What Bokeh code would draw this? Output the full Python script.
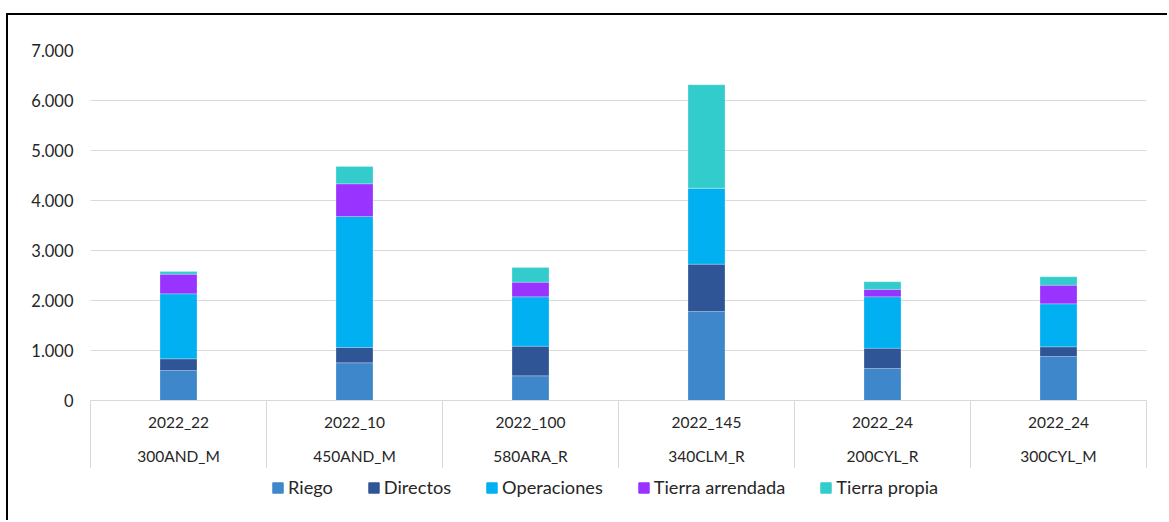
from bokeh.plotting import figure
from bokeh.models import (ColumnDataSource, Range1d, FixedTicker, LinearAxis,
                          Legend, LegendItem)
from bokeh.layouts import column
from bokeh.embed import file_html
from bokeh.resources import INLINE

# ---- data ----
years = ["2022_22", "2022_10", "2022_100", "2022_145", "2022_24", "2022_24"]
farms = ["300AND_M", "450AND_M", "580ARA_R", "340CLM_R", "200CYL_R", "300CYL_M"]
riego = [600, 753, 493, 1780, 640, 880]
directos = [233, 307, 593, 947, 407, 193]
operaciones = [1300, 2620, 987, 1520, 1027, 860]
tierra_arrendada = [393, 653, 293, 0, 147, 373]
tierra_propia = [53, 347, 293, 2067, 153, 167]
series = ["Riego", "Directos", "Operaciones", "Tierra arrendada", "Tierra propia"]
colors = ["#3E87CB", "#2F5597", "#00B0F0", "#9933FF", "#33CCCC"]
y_ticks = [0, 1000, 2000, 3000, 4000, 5000, 6000, 7000]

FONT = "Lato"
TXT = "#262626"

n = len(farms)
xpos = [i + 0.5 for i in range(n)]
src = ColumnDataSource(dict(
    x=xpos, Riego=riego, Directos=directos, Operaciones=operaciones,
    **{"Tierra arrendada": tierra_arrendada, "Tierra propia": tierra_propia}))

W = 1161
H1, H2 = 455, 52
p = figure(width=W, height=H1, output_backend="svg", toolbar_location=None,
           x_range=Range1d(0, n), y_range=Range1d(0, 7000),
           min_border_left=82, min_border_top=35, min_border_right=23,
           min_border_bottom=70, x_axis_location=None)
p.outline_line_color = None
p.background_fill_color = "white"
p.border_fill_color = "white"
p.styles = {"border-left": "2px solid black", "border-top": "2px solid black",
            "margin-left": "6px", "margin-top": "13px"}

renderers = p.vbar_stack(series, x="x", width=0.21, source=src, color=colors,
                         line_color="white", line_alpha=0.35, line_width=0.6)

# y axis
ya = p.yaxis[0]
ya.ticker = FixedTicker(ticks=y_ticks)
ya.major_label_overrides = {v: f"{v:,}".replace(",", ".") for v in y_ticks}
ya.axis_line_color = None
ya.major_tick_line_color = None
ya.major_tick_out = 0
ya.major_tick_in = 0
ya.minor_tick_line_color = None
ya.minor_tick_out = 0
ya.major_label_standoff = 17
ya.major_label_text_font = FONT
ya.major_label_text_font_size = "16.5px"
ya.major_label_text_color = TXT

p.xgrid.grid_line_color = None
p.ygrid.ticker = FixedTicker(ticks=y_ticks)
p.ygrid.grid_line_color = "#D9D9D9"
p.ygrid.grid_line_width = 1

# x axis - first level (years) with separators as minor ticks
ax1 = LinearAxis(ticker=FixedTicker(ticks=xpos, minor_ticks=list(range(n + 1))))
ax1.major_label_overrides = {x: y for x, y in zip(xpos, years)}
ax1.axis_line_color = "#D9D9D9"
ax1.major_tick_line_color = None
ax1.major_tick_out = 0
ax1.major_tick_in = 0
ax1.minor_tick_in = 0
ax1.minor_tick_out = 68
ax1.minor_tick_line_color = "#D9D9D9"
ax1.major_label_standoff = -56
ax1.major_label_text_font = FONT
ax1.major_label_text_font_size = "15.5px"
ax1.major_label_text_color = TXT
p.add_layout(ax1, "below")

# x axis - second level (farms)
ax2 = LinearAxis(ticker=FixedTicker(ticks=xpos, minor_ticks=[]))
ax2.major_label_overrides = {x: f for x, f in zip(xpos, farms)}
ax2.axis_line_color = None
ax2.major_tick_line_color = None
ax2.major_tick_out = 0
ax2.major_tick_in = 0
ax2.minor_tick_line_color = None
ax2.major_label_standoff = 13
ax2.major_label_text_font = FONT
ax2.major_label_text_font_size = "15.5px"
ax2.major_label_text_color = TXT
p.add_layout(ax2, "below")

# legend strip below the chart (hidden proxy renderers carry the legend glyphs)
p2 = figure(width=W, height=H2, output_backend="svg", toolbar_location=None,
            x_range=Range1d(100, 101), y_range=Range1d(0, 1),
            min_border=0, x_axis_location=None, y_axis_location=None)
p2.outline_line_color = None
p2.xgrid.visible = False
p2.ygrid.visible = False
p2.styles = {"border-left": "2px solid black", "margin-left": "6px"}
leg_r = p2.vbar_stack(series, x="x", width=0.21, source=src, color=colors)
for r in leg_r:
    r.visible = False

legend = Legend(items=[LegendItem(label=s, renderers=[r]) for s, r in zip(series, leg_r)],
                orientation="horizontal", location=(181, 22))
legend.glyph_width = 13
legend.glyph_height = 13
legend.label_standoff = 4
legend.spacing = 34
legend.padding = 6
legend.margin = 0
legend.border_line_color = None
legend.background_fill_alpha = 0
legend.label_text_font = FONT
legend.label_text_font_size = "18.2px"
legend.label_text_color = TXT
p2.add_layout(legend, "center")

layout = column(p, p2, spacing=0)
open("out.html", "w").write(file_html(layout, INLINE))
